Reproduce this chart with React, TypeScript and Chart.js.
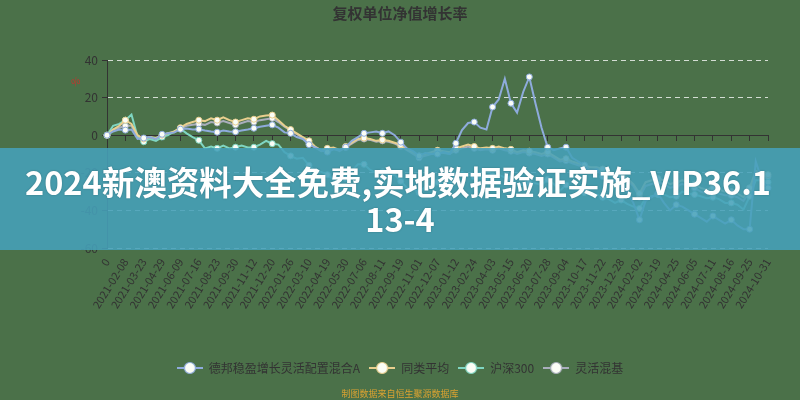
import React, { useEffect, useRef } from "react";
import { Chart, registerables } from "chart.js";

Chart.register(...registerables);

const FONT = '"Noto Sans CJK SC", "Noto Sans", sans-serif';
const BG = "#4b7149";

const chartTitle = "复权单位净值增长率";
const footerText = "制图数据来自恒生聚源数据库";
const bannerLines = ["2024新澳资料大全免费,实地数据验证实施_VIP36.1", "13-4"];

const tickDates = [
  "0", "2021-02-08", "2021-03-23", "2021-04-29", "2021-06-09", "2021-07-16", "2021-08-23",
  "2021-09-30", "2021-11-12", "2021-12-20", "2022-01-26", "2022-03-10", "2022-04-19",
  "2022-05-30", "2022-07-06", "2022-08-11", "2022-09-19", "2022-11-01", "2022-12-07",
  "2023-01-12", "2023-02-24", "2023-04-03", "2023-05-15", "2023-06-20", "2023-07-28",
  "2023-09-04", "2023-10-17", "2023-11-22", "2023-12-28", "2024-02-02", "2024-03-19",
  "2024-04-25", "2024-06-05", "2024-07-11", "2024-08-16", "2024-09-25", "2024-10-31",
];

const seriesNames = ["德邦稳盈增长灵活配置混合A", "同类平均", "沪深300", "灵活混基"];
const seriesColors = ["#8eabdc", "#e9cf8e", "#7fd6c2", "#a9aebc"];

const fundValues = [
  0, 2, 3, 2.7, 3, -2, -1.5, -1, -2, 0.5, 1, 1.5, 3.2, 3.5, 3, 3.2, 2.5, 2, 1.6, 2.5,
  2, 1.8, 2.5, 3, 3.7, 4.5, 5, 5.5, 4, 1.5, 1, -1, -2, -5, -6.5, -8, -9, -7.5, -8, -6.4,
  -3, -1, 1, 1.5, 2, 1, 2, 0, -3.7, -7, -8.5, -11, -9.5, -10, -10, -9, -10, -4.3, 2.7, 6.5,
  7, 4, 3, 15, 19, 30, 17, 12, 23, 31, 17, 4, -6.4, -8, -7, -6.4, -12, -14, -16, -20,
  -18, -22, -25, -24, -26, -30, -36, -45, -35, -33, -31, -36, -40, -37, -38, -40, -42, -44, -46, -43,
  -45, -47, -45, -48, -50, -50, -14, -24, -28,
];

const peerAverage = [
  0, 3, 5, 8, 6, 0, -2, -1, -1.5, 0, 1, 2, 4, 6, 7, 8, 7.5, 9, 8, 9.5,
  8, 7, 8, 9, 8.5, 10, 10.5, 10.7, 8, 5, 3, 1, -1, -3, -6, -8, -7, -6.5, -8, -6,
  -4, -2, -1.5, -2, -3, -2.5, -3, -4, -5, -7.5, -9, -11, -10, -9, -8, -8.5, -9, -7, -6, -5,
  -6, -7, -6.5, -7, -6, -7, -7.5, -9, -8, -8.5, -9, -10, -9, -11, -13, -12.5, -14, -15, -16, -17,
  -17, -18, -19, -21, -20, -23, -26, -31, -25, -24, -23, -24, -26, -25, -24, -25, -26, -28, -29, -28,
  -29, -30, -30, -31, -33, -28, -19, -20, -21,
];

const hs300Values = [
  0, 5, 6, 8, 11, -1, -3.5, -2, -3, -1, 0, 2, 3.5, 1, -1, -2.7, -7, -6, -7, -5.5,
  -7, -6.4, -5.5, -6.5, -6.4, -5, -3, -4.5, -5, -9, -11, -12.5, -12, -16, -19, -19.5, -21, -23.5, -23.5, -23,
  -19, -15.5, -15.5, -18.5, -20, -19.5, -21.5, -21, -24.5, -28, -28.5, -30.5, -27.5, -28, -25, -26, -25.5, -23, -19.5, -21,
  -22, -22.5, -23.5, -21.5, -21, -22.5, -23, -26, -26.5, -25.5, -25.5, -26.5, -23.5, -26, -29.5, -26.5, -28.5, -29, -30.5, -31.5,
  -31.5, -33, -34, -36, -34.5, -36.5, -38, -39, -33.5, -32.5, -31.5, -31.5, -33, -32.5, -30, -31, -31.5, -32.5, -33.5, -33,
  -34, -36, -36, -37, -39.5, -32.5, -24, -24, -25,
];

const flexMixedValues = [
  0, 3, 4, 5, 5, -1, -2, -1, -2, 0, 1, 1.5, 3.5, 5, 5.5, 6, 5.5, 7, 6.5, 7.5,
  6.5, 5.5, 6.5, 7.5, 7, 8, 8.5, 9, 7, 4.5, 2.5, 0.5, -1.5, -4, -6.5, -8.5, -8, -7, -8.5, -6.5,
  -4.5, -2.5, -2, -2.5, -3.5, -3, -3.5, -4.5, -6, -8, -10, -12, -11, -10, -9, -9.5, -10, -8, -7, -6,
  -7, -8, -7.5, -8, -7, -8, -8.5, -10, -9, -9.5, -10, -11, -10, -12, -14, -13.5, -15, -16, -17, -18.5,
  -18, -19, -20.5, -22, -21, -24, -27, -33, -27, -26, -25, -26, -28, -27, -26, -27, -28, -30, -31, -30,
  -31, -32, -32, -33, -35, -30, -20, -21, -22,
];

const yMin = -60;
const yMax = 40;
const yStep = 20;

// category labels: one tick date every 3 data points, blanks between
const labels: string[] = [];
tickDates.forEach((d, k) => {
  labels.push(d);
  if (k < tickDates.length - 1) {
    labels.push("", "");
  }
});

function makeLegendIcon(color: string): HTMLCanvasElement {
  const c = document.createElement("canvas");
  c.width = 26;
  c.height = 14;
  const g = c.getContext("2d")!;
  g.strokeStyle = color;
  g.lineWidth = 2;
  g.beginPath();
  g.moveTo(0, 7);
  g.lineTo(26, 7);
  g.stroke();
  g.beginPath();
  g.arc(13, 7, 5.5, 0, Math.PI * 2);
  g.fillStyle = "#fbfdf6";
  g.fill();
  g.lineWidth = 1.2;
  g.strokeStyle = color;
  g.stroke();
  return c;
}

export default function App() {
  const ref = useRef<HTMLCanvasElement>(null);

  useEffect(() => {
    document.body.style.margin = "0";
    document.body.style.background = BG;
    const icons = seriesColors.map(makeLegendIcon);
    const seriesData = [fundValues, peerAverage, hs300Values, flexMixedValues];

    const bgPlugin = {
      id: "bgFill",
      beforeDraw(chart: any) {
        const ctx = chart.ctx;
        ctx.save();
        ctx.fillStyle = BG;
        ctx.fillRect(0, 0, chart.width, chart.height);
        ctx.restore();
      },
    };

    const overlayPlugin = {
      id: "overlay",
      afterDraw(chart: any) {
        const ctx = chart.ctx;
        ctx.save();
        // y axis unit
        ctx.translate(75, 82);
        ctx.rotate(-0.6);
        ctx.fillStyle = "#c8332c";
        ctx.font = `italic 10px ${FONT}`;
        ctx.textAlign = "center";
        ctx.textBaseline = "middle";
        ctx.fillText("%", 0, 0);
        ctx.restore();

        // banner
        ctx.save();
        ctx.fillStyle = "rgba(70,160,186,0.88)";
        ctx.fillRect(0, 148, chart.width, 102);
        ctx.fillStyle = "#ffffff";
        ctx.textAlign = "center";
        ctx.textBaseline = "middle";
        ctx.font = `bold 26px ${FONT}`;
        const w = ctx.measureText(bannerLines[0]).width;
        const size = (26 * 746) / w;
        ctx.font = `bold ${size.toFixed(2)}px ${FONT}`;
        ctx.shadowColor = "rgba(0,0,0,0.25)";
        ctx.shadowBlur = 2;
        ctx.fillText(bannerLines[0], 398, 183);
        ctx.fillText(bannerLines[1], 400, 220);
        ctx.restore();
      },
    };

    const chart = new Chart(ref.current!, {
      type: "line",
      data: {
        labels,
        datasets: seriesNames.map((name, i) => ({
          label: name,
          data: seriesData[i],
          borderColor: seriesColors[i],
          backgroundColor: seriesColors[i],
          borderWidth: 2,
          tension: 0,
          pointRadius: (c: any) => (c.dataIndex % 3 === 0 ? 3 : 0),
          pointHoverRadius: 3,
          pointBackgroundColor: "#fbfdf6",
          pointBorderColor: seriesColors[i],
          pointBorderWidth: 1,
          xAxisID: "x",
          yAxisID: "y",
        })),
      },
      options: {
        responsive: false,
        animation: false,
        layout: { padding: { left: 0, right: 0, top: 0, bottom: 0 } },
        scales: {
          x: {
            type: "category",
            position: "bottom",
            offset: false,
            grid: { display: false, drawTicks: false },
            border: { display: false },
            ticks: {
              autoSkip: false,
              maxRotation: 58,
              minRotation: 58,
              padding: 8,
              color: "#333",
              font: { size: 11, family: FONT },
            },
            afterFit: (s: any) => {
              s.height = 105;
            },
          },
          x2: {
            type: "category",
            position: { y: 0 },
            offset: false,
            grid: {
              display: true,
              drawOnChartArea: false,
              drawTicks: true,
              tickLength: 5,
              color: (c: any) => (c.index % 3 === 0 ? "#333" : "rgba(0,0,0,0)"),
            },
            border: { display: true, color: "#333", width: 1 },
            ticks: { display: false, autoSkip: false },
          },
          y: {
            type: "linear",
            min: yMin,
            max: yMax,
            ticks: {
              stepSize: yStep,
              padding: 4,
              color: "#333",
              font: { size: 12, family: FONT },
            },
            grid: {
              color: (c: any) => (c.tick && c.tick.value === 0 ? "rgba(0,0,0,0)" : "rgba(236,240,236,0.85)"),
              tickColor: "#333",
              tickLength: 5,
              tickBorderDash: [],
            },
            border: { display: true, color: "#333", dash: [5, 4] },
            afterFit: (s: any) => {
              s.width = 107;
            },
          },
          yRight: {
            type: "linear",
            position: "right",
            display: true,
            min: yMin,
            max: yMax,
            grid: { display: false, drawTicks: false },
            border: { display: false },
            ticks: { display: false },
            afterFit: (s: any) => {
              s.width = 32;
            },
          },
        },
        plugins: {
          title: {
            display: true,
            text: chartTitle,
            color: "#333",
            font: { size: 15, weight: "bold", family: FONT },
            padding: { top: 4, bottom: 38 },
          },
          subtitle: {
            display: true,
            text: footerText,
            position: "bottom",
            color: "#d9a232",
            font: { size: 9, family: FONT },
            padding: { top: 4.5, bottom: 0.7 },
          },
          legend: {
            display: true,
            position: "bottom",
            labels: {
              usePointStyle: true,
              pointStyleWidth: 26,
              boxHeight: 12,
              padding: 9,
              color: "#333",
              font: { size: 12, family: FONT },
              generateLabels: (ch: any) => {
                const base = Chart.defaults.plugins.legend.labels.generateLabels(ch);
                return base.map((it: any, i: number) => ({ ...it, pointStyle: icons[i], fontColor: "#333" }));
              },
            },
          },
          tooltip: { enabled: false },
        },
      } as any,
      plugins: [bgPlugin, overlayPlugin],
    });

    return () => chart.destroy();
  }, []);

  return (
    <div style={{ width: 800, height: 400 }}>
      <canvas ref={ref} width={800} height={400} style={{ display: "block" }} />
    </div>
  );
}
